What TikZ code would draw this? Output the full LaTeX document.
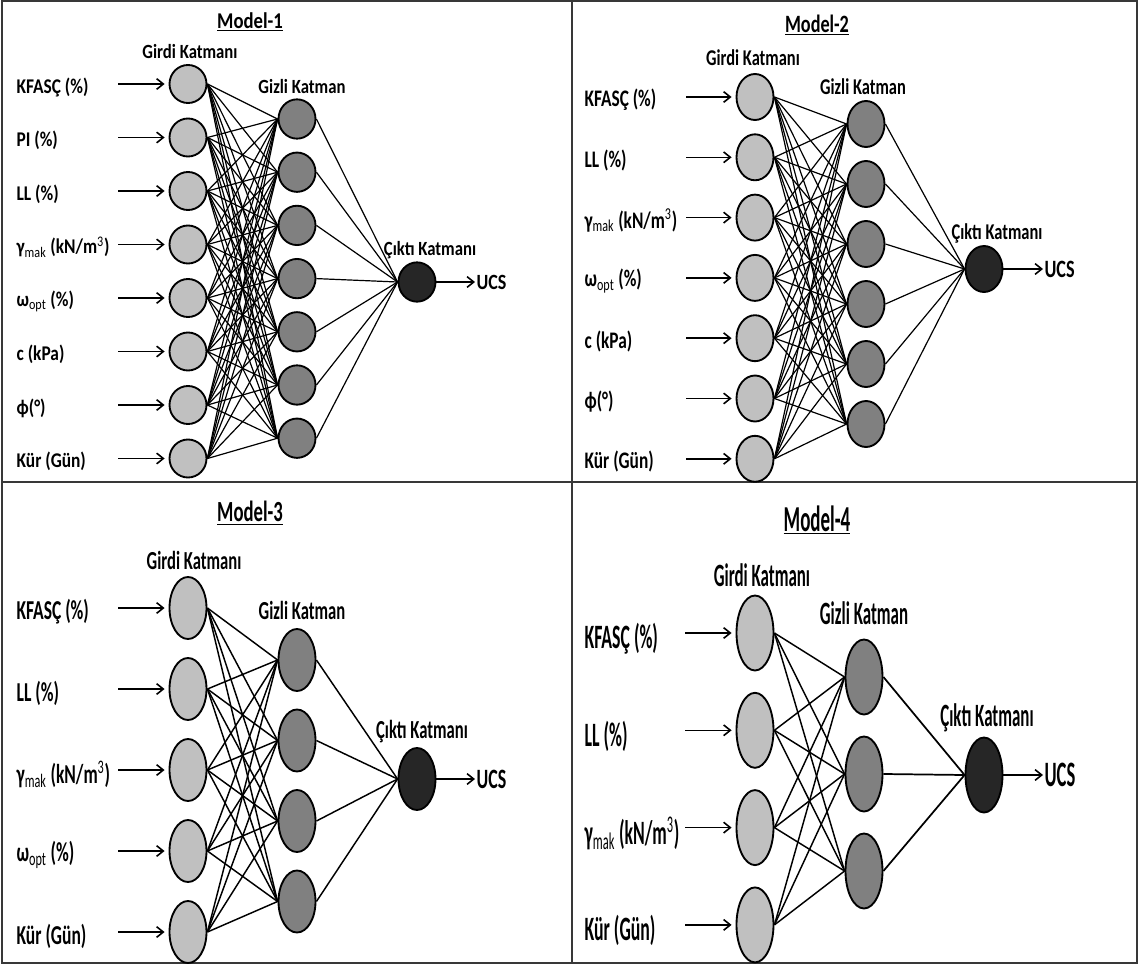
\documentclass[tikz,border=0pt]{standalone}
\usepackage{fontspec}
\setmainfont{Carlito}
\newfontfamily\fontA{Carlito}[FakeStretch=0.83]
\newfontfamily\fontB{Carlito}[FakeStretch=0.73]
\newfontfamily\fontC{Carlito}[FakeStretch=0.64]
\newfontfamily\fontD{Carlito}[FakeStretch=0.52]
\usepackage{tikz}
\usetikzlibrary{positioning,arrows.meta,shapes.geometric}
\definecolor{ingray}{HTML}{C0C0C0}
\definecolor{hidgray}{HTML}{808080}
\definecolor{outgray}{HTML}{262626}
\definecolor{frameink}{HTML}{383838}

\begin{document}
\begin{tikzpicture}[
  x=0.75pt, y=-0.75pt,
  neuron/.style={ellipse, draw=black, line width=1.4pt, inner sep=0pt, minimum width=27.75pt},
  inp/.style={neuron, fill=ingray},
  hid/.style={neuron, fill=hidgray},
  outn/.style={neuron, fill=outgray},
  txt/.style 2 args={font={#1\bfseries\fontsize{#2}{#2}\selectfont}, inner sep=1pt},
  wire/.style={line width=0.9pt, draw=black},
  feed/.style={-{Straight Barb[length=5pt, width=8pt]}, line width=1.2pt, shorten >=3pt},
  frame/.style={draw=frameink, line width=1.6pt}
]
  \useasboundingbox (0,0) rectangle (1140,967);
  \draw[frame] (2,1) rectangle (1137,963);
  \coordinate (vtop) at (572,1);
  \coordinate (vbot) at (572,963);
  \coordinate (hlft) at (2,482);
  \coordinate (hrgt) at (1137,482);
  \draw[frame] (vtop) -- (vbot);
  \draw[frame] (hlft) -- (hrgt);

  % Model-1
  \node[txt={\fontA}{16.9}] (m1) at (250,22) {\underline{Model-1}};
  \node[txt={\fontA}{15.1}] (m1g) at (190,52) {Girdi Katmanı};
  \node[txt={\fontA}{15.1}] (m1z) at (302,87) {Gizli Katman};
  \node[txt={\fontA}{15.1}] (m1c) at (430,250) {Çıktı Katmanı};
  \foreach \lab [count=\i] in {{KFASÇ (\%)},{PI (\%)},{LL (\%)},{γ\textsubscript{\mdseries mak} (kN/m\textsuperscript{\mdseries 3})},{ω\textsubscript{\mdseries opt} (\%)},{c (kPa)},{ϕ(°)},{Kür (Gün)}}{
    \node[inp, minimum height=28.5pt] (m1i\i) at (188,{84+53.5*(\i-1)}) {};
    \node[txt={\fontA}{15.7}, anchor=west] (m1l\i) at (15,{87+53.5*(\i-1)}) {\lab};
    \coordinate (m1s\i) at (118,{84+53.5*(\i-1)});
    \draw[feed] (m1s\i) -- (m1i\i);
  }
  \foreach \j in {1,...,7}
    \node[hid, minimum height=29.5pt] (m1h\j) at (297,{119+53.2*(\j-1)}) {};
  \node[outn, minimum height=29.5pt] (m1o) at (417,282) {};
  \node[txt={\fontA}{16.3}, anchor=west] (m1u) at (475,282) {UCS};
  \foreach \i in {1,...,8}
    \foreach \j in {1,...,7}
      \draw[wire] (m1i\i.east) -- (m1h\j.west);
  \foreach \j in {1,...,7}
    \draw[wire] (m1h\j.east) -- (m1o.west);
  \draw[feed, shorten >=0pt] (m1o) -- (m1u);

  % Model-2
  \node[txt={\fontB}{18.7}] (m2) at (817,25) {\underline{Model-2}};
  \node[txt={\fontB}{16.9}] (m2g) at (753,58) {Girdi Katmanı};
  \node[txt={\fontB}{16.9}] (m2z) at (863,87) {Gizli Katman};
  \node[txt={\fontB}{16.9}] (m2c) at (997,233) {Çıktı Katmanı};
  \foreach \lab [count=\i] in {{KFASÇ (\%)},{LL (\%)},{γ\textsubscript{\mdseries mak} (kN/m\textsuperscript{\mdseries 3})},{ω\textsubscript{\mdseries opt} (\%)},{c (kPa)},{ϕ(°)},{Kür (Gün)}}{
    \node[inp, minimum height=34.5pt] (m2i\i) at (755,{97+60.3*(\i-1)}) {};
    \node[txt={\fontB}{17.8}, anchor=west] (m2l\i) at (583,{100+60.3*(\i-1)}) {\lab};
    \coordinate (m2s\i) at (686,{97+60.3*(\i-1)});
    \draw[feed] (m2s\i) -- (m2i\i);
  }
  \foreach \j in {1,...,6}
    \node[hid, minimum height=34.5pt] (m2h\j) at (866,{124+60*(\j-1)}) {};
  \node[outn, minimum height=34.5pt] (m2o) at (984,269) {};
  \node[txt={\fontB}{18.7}, anchor=west] (m2u) at (1043,269) {UCS};
  \foreach \i in {1,...,7}
    \foreach \j in {1,...,6}
      \draw[wire] (m2i\i.east) -- (m2h\j.west);
  \foreach \j in {1,...,6}
    \draw[wire] (m2h\j.east) -- (m2o.west);
  \draw[feed, shorten >=0pt] (m2o) -- (m2u);

  % Model-3
  \node[txt={\fontC}{21.9}] (m3) at (250,513) {\underline{Model-3}};
  \node[txt={\fontC}{19.5}] (m3g) at (194,560) {Girdi Katmanı};
  \node[txt={\fontC}{19.5}] (m3z) at (302,610) {Gizli Katman};
  \node[txt={\fontC}{19.5}] (m3c) at (422,732) {Çıktı Katmanı};
  \foreach \lab [count=\i] in {{KFASÇ (\%)},{LL (\%)},{γ\textsubscript{\mdseries mak} (kN/m\textsuperscript{\mdseries 3})},{ω\textsubscript{\mdseries opt} (\%)},{Kür (Gün)}}{
    \node[inp, minimum height=46.5pt] (m3i\i) at (188,{608+81*(\i-1)}) {};
    \node[txt={\fontC}{20.5}, anchor=west] (m3l\i) at (15,{612+81*(\i-1)}) {\lab};
    \coordinate (m3s\i) at (118,{608+81*(\i-1)});
    \draw[feed] (m3s\i) -- (m3i\i);
  }
  \foreach \j in {1,...,4}
    \node[hid, minimum height=46.5pt] (m3h\j) at (297,{660+80.5*(\j-1)}) {};
  \node[outn, minimum height=46.5pt] (m3o) at (417,779) {};
  \node[txt={\fontC}{21}, anchor=west] (m3u) at (475,779) {UCS};
  \foreach \i in {1,...,5}
    \foreach \j in {1,...,4}
      \draw[wire, line width=1.1pt] (m3i\i.east) -- (m3h\j.west);
  \foreach \j in {1,...,4}
    \draw[wire, line width=1.1pt] (m3h\j.east) -- (m3o.west);
  \draw[feed, shorten >=0pt] (m3o) -- (m3u);

  % Model-4
  \node[txt={\fontD}{27.4}] (m4) at (817,520) {\underline{Model-4}};
  \node[txt={\fontD}{24.4}] (m4g) at (762,575) {Girdi Katmanı};
  \node[txt={\fontD}{24.4}] (m4z) at (864,613) {Gizli Katman};
  \node[txt={\fontD}{24.4}] (m4c) at (987,718) {Çıktı Katmanı};
  \foreach \lab [count=\i] in {{KFASÇ (\%)},{LL (\%)},{γ\textsubscript{\mdseries mak} (kN/m\textsuperscript{\mdseries 3})},{Kür (Gün)}}{
    \node[inp, minimum height=56.25pt] (m4i\i) at (755,{633+97.3*(\i-1)}) {};
    \node[txt={\fontD}{25.6}, anchor=west] (m4l\i) at (583,{639+97.3*(\i-1)}) {\lab};
    \coordinate (m4s\i) at (685,{633+97.3*(\i-1)});
    \draw[feed] (m4s\i) -- (m4i\i);
  }
  \foreach \j in {1,...,3}
    \node[hid, minimum height=56.25pt] (m4h\j) at (864,{677+97*(\j-1)}) {};
  \node[outn, minimum height=56.25pt] (m4o) at (984,775) {};
  \node[txt={\fontD}{26.8}, anchor=west] (m4u) at (1043,775) {UCS};
  \foreach \i in {1,...,4}
    \foreach \j in {1,...,3}
      \draw[wire, line width=1.1pt] (m4i\i.east) -- (m4h\j.west);
  \foreach \j in {1,...,3}
    \draw[wire, line width=1.3pt] (m4h\j.east) -- (m4o.west);
  \draw[feed, shorten >=0pt] (m4o) -- (m4u);
\end{tikzpicture}
\end{document}
